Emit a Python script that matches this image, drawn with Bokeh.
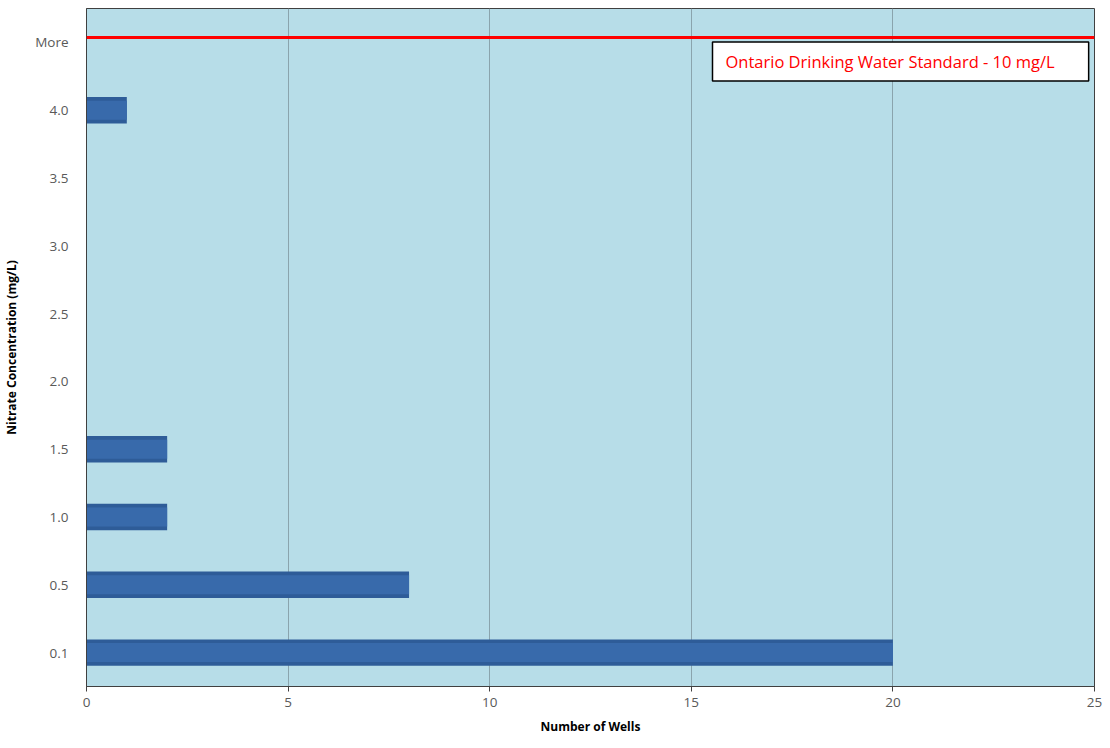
from bokeh.plotting import figure
from bokeh.models import Span, Label, FixedTicker, FactorRange, Range1d
from bokeh.embed import file_html
from bokeh.resources import INLINE

categories = ["0.1", "0.5", "1.0", "1.5", "2.0", "2.5", "3.0", "3.5", "4.0", "More"]
wells = [20, 8, 2, 2, 0, 0, 0, 0, 1, 0]
x_ticks = [0, 5, 10, 15, 20, 25]
standard_label = "Ontario Drinking Water Standard - 10 mg/L"

FONT = "Open Sans"

p = figure(width=1108, height=744, output_backend="svg", toolbar_location=None,
           y_range=FactorRange(factors=categories, range_padding=0),
           x_range=Range1d(0, 25), min_border_left=86, min_border_right=14,
           min_border_top=8, min_border_bottom=58)

p.background_fill_color = "#b7dde8"
p.border_fill_color = "white"
p.outline_line_color = "#404040"
p.outline_line_width = 1

# bars: darker base + lighter core to mimic gradient
p.hbar(y=categories, right=wells, left=0, height=0.39, fill_color="#2e5c98", line_color=None)
p.hbar(y=categories, right=wells, left=0, height=0.28, fill_color="#386aab", line_color=None)

# standard line
p.add_layout(Span(location=9.574, dimension="width", line_color="#ff0000", line_width=3))

p.add_layout(Label(x=626, y=625, x_units="screen", y_units="screen", text=standard_label,
                   text_color="#ff0000", text_font=FONT, text_font_size="16.5px",
                   background_fill_color="white", border_line_color="black",
                   border_line_width=1.5, padding=dict(left=13, right=34, top=8, bottom=8),
                   text_baseline="middle"))

p.xgrid.grid_line_color = "#8aa4ad"
p.xgrid.grid_line_width = 1
p.ygrid.grid_line_color = None

p.xaxis.ticker = FixedTicker(ticks=x_ticks)
p.xaxis.axis_label = "Number of Wells"
p.yaxis.axis_label = "Nitrate Concentration (mg/L)"
for ax in (p.xaxis[0], p.yaxis[0]):
    ax.axis_label_text_font = FONT
    ax.axis_label_text_font_style = "bold"
    ax.axis_label_text_font_size = "12px"
    ax.axis_label_text_color = "#000000"
    ax.major_label_text_font = FONT
    ax.major_label_text_font_size = "13.5px"
    ax.major_label_text_color = "#595959"
    ax.axis_line_color = "#404040"
    ax.minor_tick_line_color = None
p.xaxis.major_tick_line_color = "#404040"
p.xaxis.major_tick_in = 0
p.xaxis.major_tick_out = 5
p.xaxis.major_label_standoff = 6
p.xaxis.axis_label_standoff = 8
p.yaxis.major_tick_line_color = None
p.yaxis.major_label_standoff = 12
p.yaxis.axis_label_standoff = 12

open("out.html", "w").write(file_html(p, INLINE))
